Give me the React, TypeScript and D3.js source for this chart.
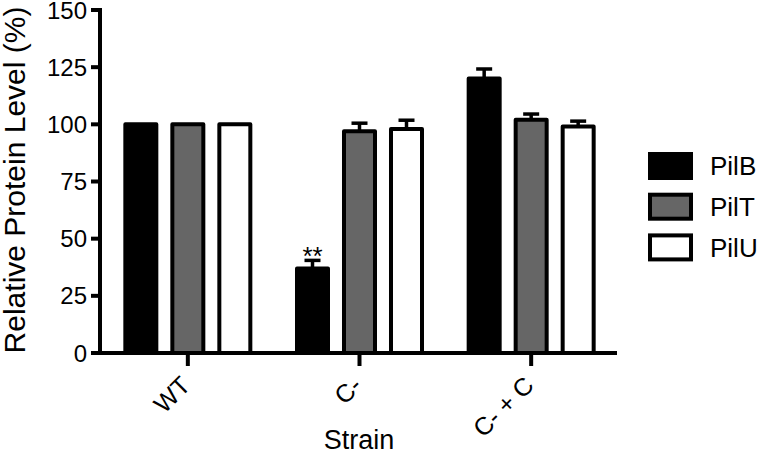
import React from "react";
import * as d3 from "d3";

const groups = ["WT", "C-", "C- + C"];
const seriesNames = ["PilB", "PilT", "PilU"];
const pilB = [100, 37, 120];
const pilBErr = [0, 3.5, 4.2];
const pilT = [100, 97, 102];
const pilTErr = [0, 3.5, 2.5];
const pilU = [100, 98, 99];
const pilUErr = [0, 3.8, 2.4];
const yTicks = [0, 25, 50, 75, 100, 125, 150];
const fills = ["#000000", "#666666", "#ffffff"];

const values = [pilB, pilT, pilU];
const errors = [pilBErr, pilTErr, pilUErr];

const W = 760;
const H = 454;
const FONT = "'Liberation Sans', Arial, Helvetica, sans-serif";

export default function App() {
  const x = d3.scaleBand<string>().domain(groups).range([102, 617]).padding(0);
  const inner = d3
    .scaleBand<string>()
    .domain(seriesNames)
    .range([-70.5, 70.5])
    .paddingInner(0.2553)
    .paddingOuter(0.12765);
  const y = d3.scaleLinear().domain([0, 150]).range([353, 10]);
  const sw = 4;

  return (
    <svg
      width={W}
      height={H}
      style={{ position: "absolute", left: 0, top: 0, background: "#fff" }}
      fontFamily={FONT}
    >
      {/* bars */}
      {seriesNames.map((s, si) =>
        groups.map((g, gi) => {
          const cx = (x(g) as number) + x.bandwidth() / 2;
          const x0 = cx + (inner(s) as number);
          const v = values[si][gi];
          return (
            <rect
              key={s + g}
              x={x0 + sw / 2}
              y={y(v)}
              width={inner.bandwidth() - sw}
              height={y(0) - y(v)}
              fill={fills[si]}
              stroke="#000"
              strokeWidth={sw}
              strokeLinejoin="round"
            />
          );
        })
      )}
      {/* error bars */}
      {seriesNames.map((s, si) =>
        groups.map((g, gi) => {
          const e = errors[si][gi];
          if (!e) return null;
          const cx = (x(g) as number) + x.bandwidth() / 2 + (inner(s) as number) + inner.bandwidth() / 2;
          const v = values[si][gi];
          return (
            <g key={"e" + s + g} stroke="#000" strokeWidth={3.5}>
              <line x1={cx} x2={cx} y1={y(v)} y2={y(v + e)} />
              <line x1={cx - 8} x2={cx + 8} y1={y(v + e)} y2={y(v + e)} />
            </g>
          );
        })
      )}
      {/* significance */}
      {(() => {
        const cx = (x(groups[1]) as number) + x.bandwidth() / 2 + (inner(seriesNames[0]) as number) + inner.bandwidth() / 2;
        return (
          <text x={cx} y={y(pilB[1] + pilBErr[1]) + 5} textAnchor="middle" fontSize={26}>
            **
          </text>
        );
      })()}
      {/* axes */}
      <line x1={100} x2={100} y1={y(150) - 2} y2={y(0) + 2} stroke="#000" strokeWidth={4} />
      <line x1={98} x2={617} y1={y(0)} y2={y(0)} stroke="#000" strokeWidth={4} />
      {yTicks.map((t) => (
        <g key={"yt" + t}>
          <line x1={91} x2={100} y1={y(t)} y2={y(t)} stroke="#000" strokeWidth={4} />
          <text x={87} y={y(t)} dy="0.36em" textAnchor="end" fontSize={24}>
            {t}
          </text>
        </g>
      ))}
      {groups.map((g) => {
        const cx = (x(g) as number) + x.bandwidth() / 2;
        return (
          <g key={"xt" + g}>
            <line x1={cx} x2={cx} y1={y(0)} y2={y(0) + 13} stroke="#000" strokeWidth={4} />
            <text
              transform={`translate(${cx + 4},${y(0) + 34}) rotate(-45)`}
              textAnchor="end"
              fontSize={25}
            >
              {g}
            </text>
          </g>
        );
      })}
      <text x={359} y={449} textAnchor="middle" fontSize={27}>
        Strain
      </text>
      <text transform={`translate(25,180) rotate(-90)`} textAnchor="middle" fontSize={30}>
        Relative Protein Level (%)
      </text>
      {/* legend */}
      {seriesNames.map((s, si) => {
        const ly = 152 + si * 40.7;
        return (
          <g key={"lg" + s}>
            <rect x={650} y={ly + 2} width={41} height={24} fill={fills[si]} stroke="#000" strokeWidth={4} />
            <text x={710} y={ly + 14} dy="0.36em" fontSize={26}>
              {s}
            </text>
          </g>
        );
      })}
    </svg>
  );
}
